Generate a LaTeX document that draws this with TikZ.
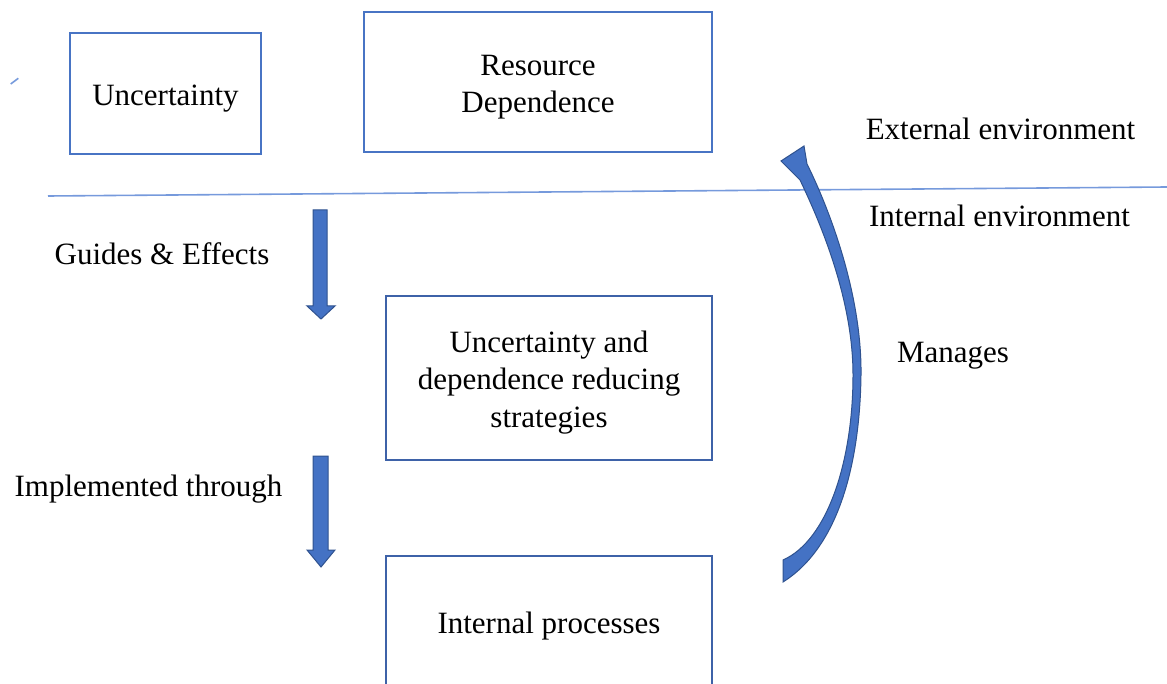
\documentclass[tikz,border=0pt]{standalone}
\usepackage{fontspec}
\setmainfont{Liberation Serif}
\definecolor{boxblue}{RGB}{72,116,196}
\definecolor{boxdark}{RGB}{62,98,168}
\definecolor{arrowfill}{RGB}{68,114,196}
\definecolor{arrowedge}{RGB}{47,82,143}
\definecolor{lineblue}{RGB}{118,154,220}
\begin{document}
\begin{tikzpicture}[x=0.5pt,y=-0.5pt,
  labelfont/.style={font=\fontsize{15.5}{18.6}\selectfont},
  box/.style={draw=boxblue, line width=1pt, inner sep=0pt},
  lowbox/.style={box, draw=boxdark},
  boxtext/.style={inner sep=0pt, align=center, labelfont},
  txt/.style={inner sep=0pt, anchor=base, labelfont},
  blockarrow/.style={fill=arrowfill, draw=arrowedge, line width=0.5pt, line join=miter},
  divider/.style={draw=lineblue, line width=0.8pt}]
\useasboundingbox (0,0) rectangle (1167,684);

% boxes of the external environment
\node[box, minimum width=95.5pt, minimum height=60.5pt] (unc) at (165.5,93.5) {};
\node[boxtext] (unctext) at (165.5,98.5) {Uncertainty};
\node[box, minimum width=174pt, minimum height=70pt] (res) at (538,82) {};
\node[boxtext] (restext) at (538,87.5) {Resource\\Dependence};

% boundary between external and internal environment
\coordinate (divL) at (48,196);
\coordinate (divR) at (1167,187);
\draw[divider] (divL) -- (divR);
\coordinate (tickA) at (10.7,84);
\coordinate (tickB) at (18.3,78.3);
\draw[divider] (tickA) -- (tickB);

% boxes of the internal environment
\node[lowbox, minimum width=163pt, minimum height=82pt] (strat) at (549,378) {};
\node[boxtext] (strattext) at (549,382.5)
  {Uncertainty and\\dependence reducing\\strategies};
\node[inner sep=0pt, minimum width=163pt, minimum height=128pt] (ipbox) at (549,684) {};
\draw[draw=boxdark, line width=1pt] (ipbox.west) |- (ipbox.north) -| (ipbox.east);
\node[boxtext] (ip) at (549,626) {Internal processes};

% side labels
\node[txt] (ext) at (1000.5,140) {External environment};
\node[txt] (int) at (999.5,227) {Internal environment};
\node[txt] (guides) at (162,264) {Guides \& Effects};
\node[txt] (impl) at (148.5,496) {Implemented through};
\node[txt] (man) at (953,362) {Manages};

% straight block arrows
\draw[blockarrow] (313,210) -- (327,210) -- (327,306) -- (335,306) -- (321,319)
  -- (307,306) -- (313,306) -- cycle;
\draw[blockarrow] (313,456) -- (328,456) -- (328,550) -- (335,550) -- (321,567)
  -- (307,550) -- (313,550) -- cycle;

% curved block arrow from internal processes back to the environment
\draw[blockarrow] (781,161) -- (804,146) -- (807,164)
  .. controls (826,202) and (862,290) .. (861,375)
  .. controls (860,455) and (842,545) .. (783,582)
  -- (783,560)
  .. controls (828,540) and (853,460) .. (853,375)
  .. controls (853,302) and (823,228) .. (800,180)
  -- cycle;
\end{tikzpicture}
\end{document}
